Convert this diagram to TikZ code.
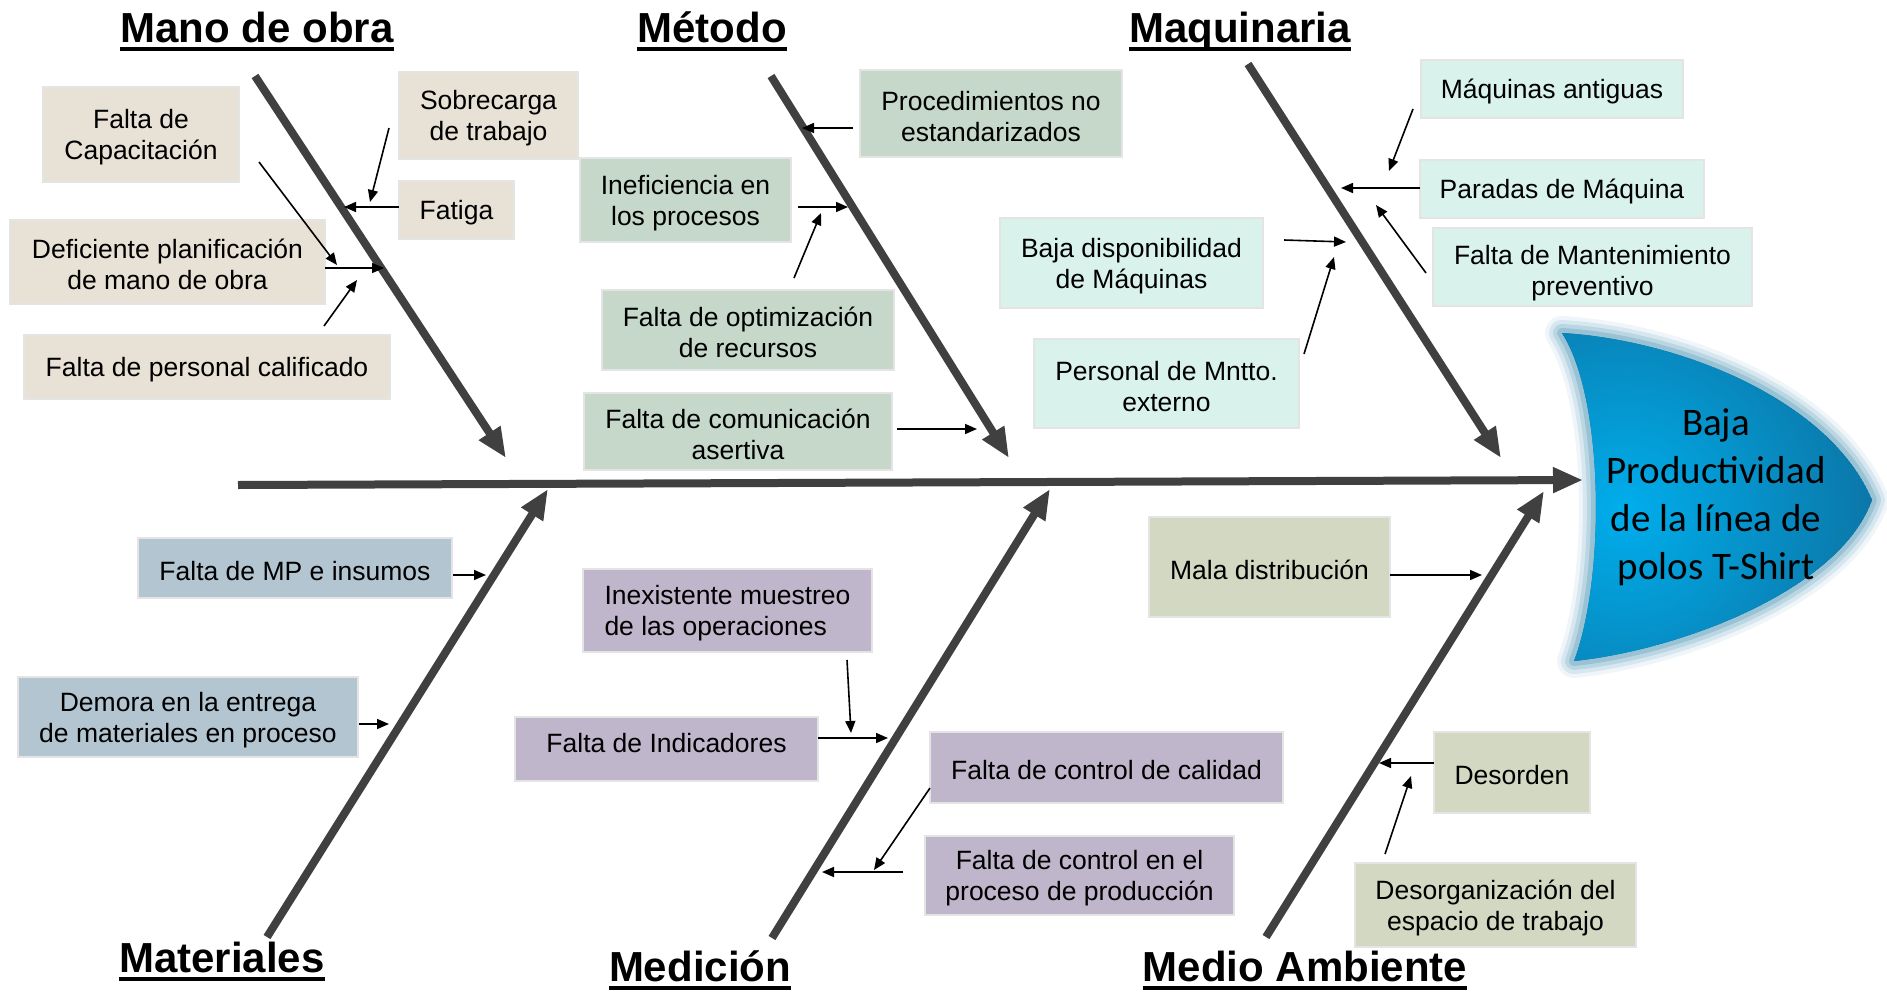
\documentclass[tikz,border=0pt]{standalone}
\usepackage{fontspec}
\setmainfont{Liberation Sans}
\newfontfamily\headfont{Carlito}
\usepackage{tikz}
\usetikzlibrary{arrows.meta}

\definecolor{cMano}{RGB}{232,225,213}
\definecolor{cMetodo}{RGB}{197,216,202}
\definecolor{cMaq}{RGB}{217,242,236}
\definecolor{cMat}{RGB}{178,197,209}
\definecolor{cMed}{RGB}{191,182,203}
\definecolor{cAmb}{RGB}{211,216,194}
\definecolor{boxline}{RGB}{228,228,228}
\definecolor{bone}{RGB}{64,64,64}
\definecolor{headL}{RGB}{0,174,236}
\definecolor{headR}{RGB}{15,100,145}
\definecolor{glow}{RGB}{120,175,200}

\tikzset{
	causa/.style={draw=boxline, line width=1.5pt, inner sep=0pt, align=center,
		text height=25pt, font=\fontsize{26.5}{31}\selectfont},
	% two-line boxes sit a little lower in the box
	doble/.style={causa, text height=56pt},
	espina/.style={draw=bone, line width=8pt, -{Triangle[length=30pt,width=24pt]}},
	flecha/.style={line width=1.6pt, -{Triangle[length=12pt,width=10pt]}},
	titulo/.style={inner sep=0pt, anchor=base, font=\fontsize{42}{42}\selectfont\bfseries},
}

% outline of the fish head (the effect)
\def\headpath{(1562,333) .. controls (1680,340) and (1830,400) .. (1872,500)
	.. controls (1840,590) and (1680,650) .. (1574,661)
	.. controls (1605,580) and (1605,400) .. cycle}

\begin{document}
\begin{tikzpicture}[x=1pt, y=-1pt]
	\useasboundingbox (0,0) rectangle (1887,991);
	
	% NOTE: one unit = one pixel of the 1887 x 991 layout, y grows downwards
	
	%%%%%%%%%%%%%%%%%%%%%%%%%%%%%%%%%%%%%%%%%%%%%%%%%%%%%%%%%%%%%%
	% head: soft halo, then dark fill with a bright spot on the left
	\foreach \w/\o in {34/0.12, 26/0.2, 18/0.3, 10/0.5}
		\draw[glow, line width=\w pt, opacity=\o, line join=round] \headpath;
	\begin{scope}
		\clip \headpath;
		\fill[headR] \headpath;
		\shade[inner color=headL, outer color=headR] (1625,510) circle (330);
	\end{scope}
	\node[align=center, font=\headfont\fontsize{39}{48}\selectfont] (efecto) at (1716,497)
		{Baja\\Productividad\\de la línea de\\polos T-Shirt};
	
	%%%%%%%%%%%%%%%%%%%%%%%%%%%%%%%%%%%%%%%%%%%%%%%%%%%%%%%%%%%%%%
	% titles of the six categories
	\node[titulo] (tmano) at (257,42) {Mano de obra};
	\node[titulo] (tmet) at (712,42) {Método};
	\node[titulo] (tmaq) at (1240,42) {Maquinaria};
	\node[titulo] (tmat) at (222,972) {Materiales};
	\node[titulo] (tmed) at (700,981) {Medición};
	\node[titulo] (tamb) at (1305,981) {Medio Ambiente};
	\foreach \t in {tmano,tmet,tmaq,tmat,tmed,tamb}
		\draw[line width=4pt] ([yshift=-7pt]\t.base west) -- ([yshift=-7pt]\t.base east);
	
	%%%%%%%%%%%%%%%%%%%%%%%%%%%%%%%%%%%%%%%%%%%%%%%%%%%%%%%%%%%%%%
	% spine and bones: start and tip of each one
	\coordinate (S1) at (238,485);  \coordinate (S2) at (1583,480);
	\coordinate (M1) at (255,76);   \coordinate (M2) at (506,458);
	\coordinate (T1) at (771,76);   \coordinate (T2) at (1009,458);
	\coordinate (Q1) at (1248,64);  \coordinate (Q2) at (1501,458);
	\coordinate (L1) at (267,937);  \coordinate (L2) at (548,489);
	\coordinate (D1) at (772,938);  \coordinate (D2) at (1050,489);
	\coordinate (A1) at (1266,937); \coordinate (A2) at (1544,491);
	
	\draw[espina] (S1) -- (S2);
	\foreach \b in {M,T,Q,L,D,A}
		\draw[espina] (\b1) -- (\b2);
	
	%%%%%%%%%%%%%%%%%%%%%%%%%%%%%%%%%%%%%%%%%%%%%%%%%%%%%%%%%%%%%%
	% Mano de obra
	\node[doble, fill=cMano, minimum width=196pt, minimum height=95pt] (cap) at (141,134.5) {Falta de\\Capacitación};
	\node[doble, fill=cMano, minimum width=179pt, minimum height=87pt] (sobre) at (488.5,115.5) {Sobrecarga\\de trabajo};
	\node[causa, fill=cMano, minimum width=115pt, minimum height=58pt] (fatiga) at (456.5,210) {Fatiga};
	\node[doble, fill=cMano, minimum width=315pt, minimum height=84pt] (defic) at (167.5,262) {Deficiente planificación\\de mano de obra};
	\node[causa, fill=cMano, minimum width=366pt, minimum height=64pt] (perso) at (207,367) {Falta de personal calificado};
	
	\coordinate (m1a) at (389,128); \coordinate (m1b) at (370,202);
	\coordinate (m2a) at (399,207); \coordinate (m2b) at (344,207);
	\coordinate (m3a) at (259,162); \coordinate (m3b) at (337,265);
	\coordinate (m4a) at (325,268); \coordinate (m4b) at (384,268);
	\coordinate (m5a) at (324,326); \coordinate (m5b) at (357,280);
	
	% Método
	\node[doble, fill=cMetodo, minimum width=262pt, minimum height=87pt] (proc) at (991,113.5) {Procedimientos no\\estandarizados};
	\node[doble, fill=cMetodo, minimum width=211pt, minimum height=84pt] (inef) at (685.5,200) {Ineficiencia en\\los procesos};
	\node[doble, fill=cMetodo, minimum width=292pt, minimum height=80pt] (optim) at (748,330) {Falta de optimización\\de recursos};
	\node[doble, fill=cMetodo, minimum width=308pt, minimum height=77pt] (comun) at (738,431.5) {Falta de comunicación\\asertiva};
	
	\coordinate (t1a) at (853,128); \coordinate (t1b) at (802,128);
	\coordinate (t2a) at (798,207); \coordinate (t2b) at (848,207);
	\coordinate (t3a) at (794,278); \coordinate (t3b) at (821,213);
	\coordinate (t4a) at (897,429); \coordinate (t4b) at (977,429);
	
	% Maquinaria
	\node[causa, fill=cMaq, minimum width=262pt, minimum height=58pt] (antig) at (1552,89) {Máquinas antiguas};
	\node[causa, fill=cMaq, minimum width=284pt, minimum height=58pt] (parad) at (1562,189) {Paradas de Máquina};
	\node[doble, fill=cMaq, minimum width=319pt, minimum height=78pt, text height=62pt] (mant) at (1592.5,267) {Falta de Mantenimiento\\preventivo};
	\node[doble, fill=cMaq, minimum width=263pt, minimum height=90pt] (bdisp) at (1131.5,263) {Baja disponibilidad\\de Máquinas};
	\node[doble, fill=cMaq, minimum width=265pt, minimum height=89pt] (pmntt) at (1166.5,383.5) {Personal de Mntto.\\externo};
	
	\coordinate (q1a) at (1413,109); \coordinate (q1b) at (1389,171);
	\coordinate (q2a) at (1420,188); \coordinate (q2b) at (1341,188);
	\coordinate (q3a) at (1426,273); \coordinate (q3b) at (1376,205);
	\coordinate (q4a) at (1284,240); \coordinate (q4b) at (1346,242);
	\coordinate (q5a) at (1304,354); \coordinate (q5b) at (1334,257);
	
	% Materiales
	\node[causa, fill=cMat, minimum width=314pt, minimum height=60pt] (mp) at (295,568) {Falta de MP e insumos};
	\node[doble, fill=cMat, minimum width=340pt, minimum height=80pt] (demor) at (188,717) {Demora en la entrega\\de materiales en proceso};
	
	\coordinate (l1a) at (453,575); \coordinate (l1b) at (486,575);
	\coordinate (l2a) at (359,724); \coordinate (l2b) at (389,724);
	
	% Medición
	\node[doble, fill=cMed, minimum width=289pt, minimum height=83pt, align=left] (muest) at (727.5,610.5) {Inexistente muestreo\\de las operaciones};
	\node[causa, fill=cMed, minimum width=303pt, minimum height=64pt, text height=8pt] (indic) at (666.5,749) {Falta de Indicadores};
	\node[causa, fill=cMed, minimum width=353pt, minimum height=71pt] (calid) at (1106.5,767.5) {Falta de control de calidad};
	\node[doble, fill=cMed, minimum width=309pt, minimum height=79pt] (cprod) at (1079.5,875.5) {Falta de control en el\\proceso de producción};
	
	\coordinate (d1a) at (847,660); \coordinate (d1b) at (851,733);
	\coordinate (d2a) at (818,738); \coordinate (d2b) at (888,738);
	\coordinate (d3a) at (930,788); \coordinate (d3b) at (874,870);
	\coordinate (d4a) at (903,872); \coordinate (d4b) at (822,872);
	
	% Medio Ambiente
	\node[causa, fill=cAmb, minimum width=241pt, minimum height=100pt] (mala) at (1269.5,567) {Mala distribución};
	\node[causa, fill=cAmb, minimum width=156pt, minimum height=81pt] (desor) at (1512,772.5) {Desorden};
	\node[doble, fill=cAmb, minimum width=281pt, minimum height=84pt] (desorg) at (1495.5,905) {Desorganización del\\espacio de trabajo};
	
	\coordinate (a1a) at (1390,575); \coordinate (a1b) at (1482,575);
	\coordinate (a2a) at (1434,763); \coordinate (a2b) at (1379,763);
	\coordinate (a3a) at (1385,854); \coordinate (a3b) at (1411,776);
	
	%%%%%%%%%%%%%%%%%%%%%%%%%%%%%%%%%%%%%%%%%%%%%%%%%%%%%%%%%%%%%%
	% small arrows: cause -> bone (or cause -> cause)
	\foreach \p in {m1,m2,m3,m4,m5,t1,t2,t3,t4,q1,q2,q3,q4,q5,l1,l2,d1,d2,d3,d4,a1,a2,a3}
		\draw[flecha] (\p a) -- (\p b);
	
\end{tikzpicture}
\end{document}
